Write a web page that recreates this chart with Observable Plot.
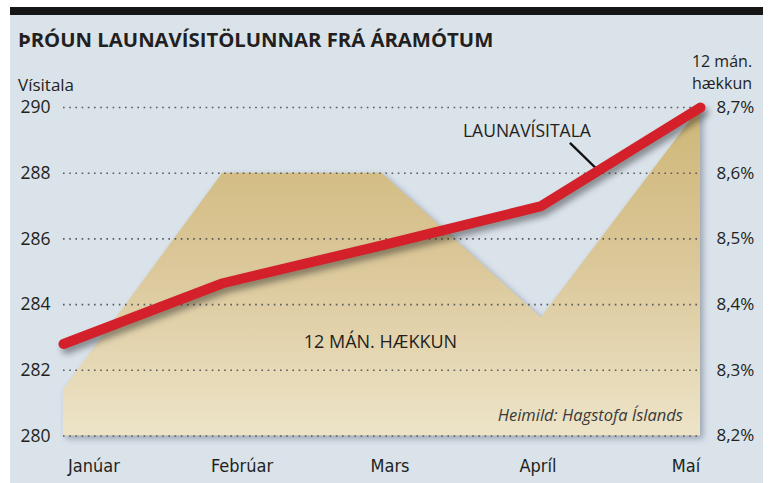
<!DOCTYPE html>
<html>
<head>
<meta charset="utf-8">
<script src="https://cdn.jsdelivr.net/npm/d3@7"></script>
<script src="https://cdn.jsdelivr.net/npm/@observablehq/plot@0.6"></script>
<style>
  html, body { margin: 0; padding: 0; background: #ffffff; }
  #wrap { position: relative; width: 773px; height: 483px; overflow: hidden; font-family: "Open Sans", sans-serif; color: #231f20; }
  #frame { position: absolute; left: 10px; top: 7px; width: 753px; height: 476px; background: #dae2ea; }
  #bar { position: absolute; left: 10px; top: 7px; width: 753px; height: 8px; background: #161616; }
  #title { position: absolute; left: 18px; top: 25px; font-size: 20.3px; font-weight: 700; letter-spacing: 0px; white-space: nowrap; }
  #ylab { position: absolute; left: 18px; top: 73px; font-size: 17px; }
  #y2 { position: absolute; width: 80px; left: 682px; top: 50px; text-align: center; font-size: 16px; line-height: 22px; white-space: nowrap; }
  .chart { position: absolute; left: 0; top: 0; }
  #months { position: absolute; left: 0; top: 448px; }
  g[aria-label="area"] { filter: drop-shadow(3px 3px 3px rgba(70, 85, 105, 0.45)); }
  g[aria-label="line"] { filter: drop-shadow(3px 5px 3px rgba(30, 30, 30, 0.45)); }
</style>
</head>
<body>
<svg width="0" height="0" style="position:absolute">
  <defs>
    <linearGradient id="tan" gradientUnits="userSpaceOnUse" x1="0" y1="107" x2="0" y2="436">
      <stop offset="0" stop-color="#cfb777"/>
      <stop offset="0.45" stop-color="#dac697"/>
      <stop offset="1" stop-color="#ede4c8"/>
    </linearGradient>
  </defs>
</svg>
<div id="wrap">
  <div id="frame"></div>
  <div id="bar"></div>
  <div id="title">ÞRÓUN LAUNAVÍSITÖLUNNAR FRÁ ÁRAMÓTUM</div>
  <div id="ylab">Vísitala</div>
  <div id="y2">12 mán.<br>hækkun</div>
  <div id="chart" class="chart"></div>
  <div id="months"></div>
</div>
<script>
// ---- Data ----
const months = ["Janúar", "Febrúar", "Mars", "Apríl", "Maí"];
const launavisitala = [282.8, 284.65, 285.8, 287.0, 290.0];
const haekkun12 = [8.27, 8.6, 8.6, 8.38, 8.7];          // percent, right axis
const yTicks = [280, 282, 284, 286, 288, 290];
const pctTicks = ["8,2%", "8,3%", "8,4%", "8,5%", "8,6%", "8,7%"];

// annotations (x = month index, y = vísitala units)
const labelLine = {text: "LAUNAVÍSITALA", x: 2.91, y: 289.28};
const leader = {x1: 3.18, y1: 288.92, x2: 3.35, y2: 288.12};
const labelArea = {text: "12 MÁN. HÆKKUN", x: 1.99, y: 282.85};
const source = {text: "Heimild: Hagstofa Íslands", x: 3.89, y: 280.62};

// ---- Derived tables ----
// map right-axis percent (8.2..8.7) onto left axis (280..290)
const pctToIdx = p => 280 + (p - 8.2) * 20;
const lineData = months.map((m, i) => ({i, v: launavisitala[i]}));
const areaData = months.map((m, i) => ({i, v: pctToIdx(haekkun12[i])}));

const chart = Plot.plot({
  width: 773,
  height: 483,
  marginLeft: 63,
  marginRight: 73,
  marginTop: 107,
  marginBottom: 47.5,
  style: {background: "transparent", fontFamily: "Open Sans, sans-serif", fontSize: "17px", color: "#231f20", overflow: "visible"},
  x: {type: "linear", domain: [0, months.length - 1], axis: null},
  y: {domain: [280, 290], axis: null},
  marks: [
    Plot.areaY(areaData, {x: "i", y1: 280, y2: "v", fill: "url(#tan)", curve: "linear"}),
    Plot.ruleY(yTicks, {stroke: "#5a5a5a", strokeWidth: 1.6, strokeDasharray: "1.6 4.6"}),
    Plot.axisY(yTicks, {anchor: "left", tickSize: 0, tickPadding: 13, tickFormat: d => String(d), fontSize: 17.5, fill: "#231f20", label: null}),
    Plot.axisY(yTicks, {anchor: "right", tickSize: 0, tickPadding: 16, tickFormat: (d, k) => pctTicks[k], fontSize: 17, fill: "#231f20", label: null}),
    Plot.link([leader], {x1: "x1", y1: "y1", x2: "x2", y2: "y2", stroke: "#111", strokeWidth: 2.4}),
    Plot.line(lineData, {x: "i", y: "v", stroke: "#d3202b", strokeWidth: 10, strokeLinecap: "round", strokeLinejoin: "round"}),
    Plot.text([labelLine], {x: "x", y: "y", text: "text", fontSize: 17.5, fill: "#231f20", textAnchor: "middle"}),
    Plot.text([labelArea], {x: "x", y: "y", text: "text", fontSize: 18, fill: "#231f20", textAnchor: "middle"}),
    Plot.text([source], {x: "x", y: "y", text: "text", fontSize: 16.5, fontStyle: "italic", fill: "#3a3a3a", textAnchor: "end"})
  ]
});
document.getElementById("chart").appendChild(chart);

const monthAxis = Plot.plot({
  width: 773,
  height: 35,
  marginLeft: 12,
  marginRight: 6,
  marginTop: 0,
  marginBottom: 0,
  style: {background: "transparent", overflow: "visible"},
  x: {type: "band", domain: months, axis: null},
  y: {axis: null},
  marks: [
    Plot.text(months, {x: d => d, frameAnchor: "middle", text: d => d, fontSize: 18, fill: "#231f20",
      fontFamily: "'Liberation Sans Narrow', 'DejaVu Sans Condensed', 'Open Sans', sans-serif"})
  ]
});
document.getElementById("months").appendChild(monthAxis);
</script>
</body>
</html>
